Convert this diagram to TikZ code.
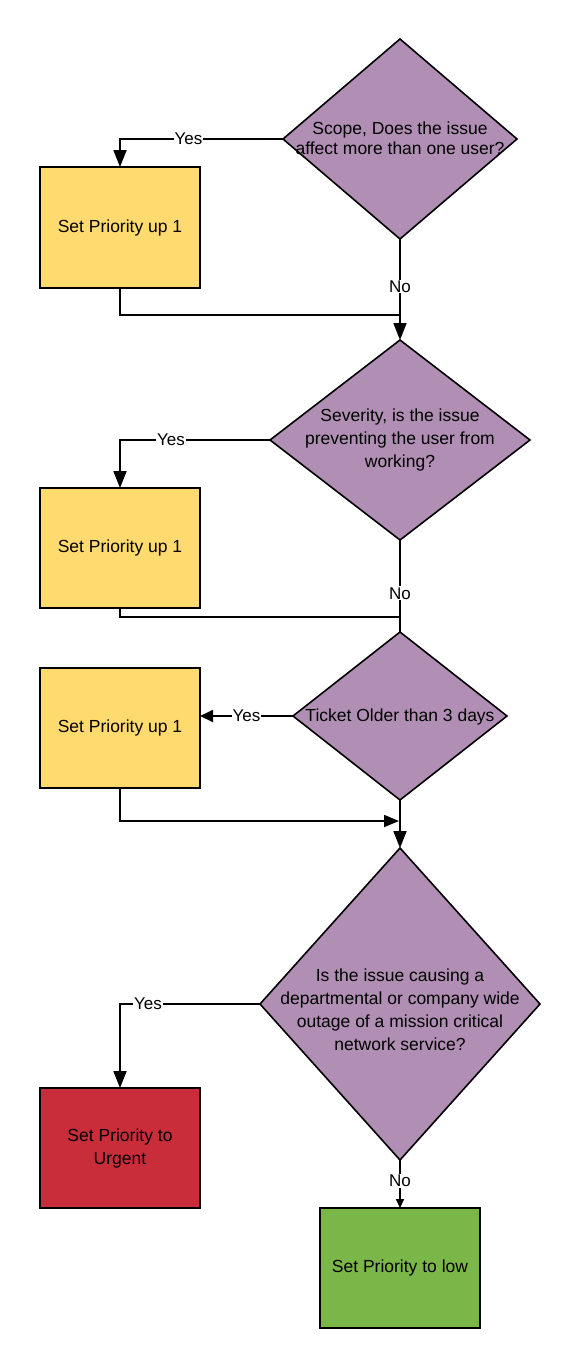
\documentclass[tikz,border=0pt]{standalone}
\usepackage{fontspec}
\setmainfont{Liberation Sans}
\usetikzlibrary{shapes.geometric,arrows.meta}
\definecolor{purp}{HTML}{B18FB5}
\definecolor{yel}{HTML}{FFDA6E}
\definecolor{redc}{HTML}{C92D39}
\definecolor{grn}{HTML}{7AB648}
\newcommand\ztext[2][-5pt]{\makebox[0pt][c]{\raisebox{#1}[0pt][0pt]{\begin{tabular}[c]{@{}c@{}}#2\end{tabular}}}}
\tikzset{
  every node/.style={font=\fontsize{17.5}{23}\selectfont, text=black},
  dia/.style={diamond, draw=black, line width=1.6pt, fill=purp, inner sep=0pt, outer sep=0pt},
  box/.style={rectangle, draw=black, line width=1.8pt, minimum width=160pt, minimum height=120pt, align=center, inner sep=0pt, outer sep=0pt},
  conn/.style={line width=1.8pt},
  arr/.style={conn, -{Triangle[length=17pt,width=13pt]}},
  arrs/.style={conn, -{Triangle[length=9pt,width=8pt]}},
  lbl/.style={fill=white, inner sep=1pt, font=\fontsize{17}{20}\selectfont},
}
\begin{document}
\begin{tikzpicture}[x=1pt,y=-1pt]
\useasboundingbox (0,0) rectangle (580,1368);
% decisions
\node[dia, minimum width=234pt, minimum height=200pt] (d1) at (400,139) {\ztext[-5pt]{Scope, Does the issue\\[-3pt]affect more than one user?}};
\node[dia, minimum width=260pt, minimum height=200pt] (d2) at (400,440) {\ztext[-4pt]{Severity, is the issue\\preventing the user from\\working?}};
\node[dia, minimum width=214pt, minimum height=168pt] (d3) at (400,716) {\ztext[-5pt]{Ticket Older than 3 days}};
\node[dia, minimum width=280pt, minimum height=312pt] (d4) at (400,1004) {\ztext[-12pt]{Is the issue causing a\\departmental or company wide\\outage of a mission critical\\network service?}};
% actions
\node[box, fill=yel, minimum height=121pt] (b1) at (120,227.5) {Set Priority up 1};
\node[box, fill=yel] (b2) at (120,548) {Set Priority up 1};
\node[box, fill=yel] (b3) at (120,728) {Set Priority up 1};
\node[box, fill=redc] (b4) at (120,1148) {Set Priority to\\Urgent};
\node[box, fill=grn] (b5) at (400,1268) {Set Priority to low};
% merge points
\coordinate (m1) at (400,315);
\coordinate (m2) at (400,617);
\coordinate (m3) at (399,821);
% connectors
\draw[arr] (d1.west) -| node[lbl, pos=0.29] {Yes} (b1.north);
\draw[arr] (d1.south) -- node[lbl, pos=0.47] {No} (d2.north);
\draw[conn] (b1.south) |- (m1);
\draw[arr] (d2.west) -| node[lbl, pos=0.33] {Yes} (b2.north);
\draw[conn] (d2.south) -- node[lbl, pos=0.58] {No} (d3.north);
\draw[conn] (b2.south) |- (m2);
\draw[conn, -{Triangle[length=13pt,width=12pt]}] (d3.west) -- node[lbl, pos=0.5] {Yes} (d3.west -| b3.east);
\draw[arr] (d3.south) -- (d4.north);
\draw[conn, -{Triangle[length=15pt,width=12pt]}] (b3.south) |- (m3);
\draw[arr] (d4.west) -| node[lbl, pos=0.40] {Yes} (b4.north);
\draw[arrs] (d4.south) -- node[lbl, pos=0.44] {No} (b5.north);
\end{tikzpicture}
\end{document}
